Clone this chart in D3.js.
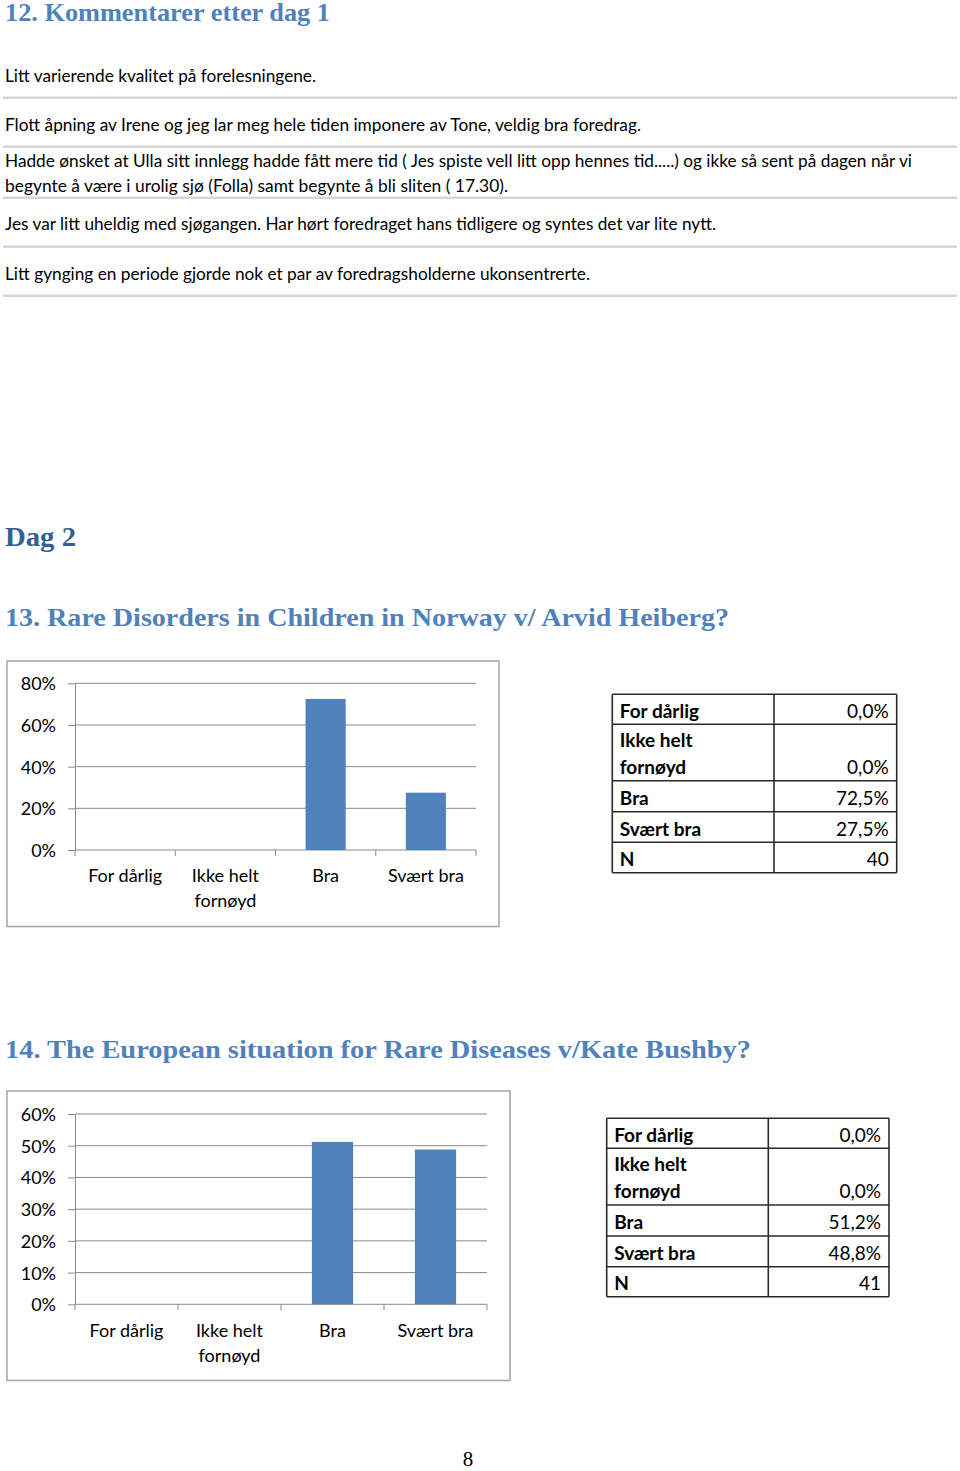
<!DOCTYPE html>
<html><head><meta charset="utf-8">
<script src="https://cdn.jsdelivr.net/npm/d3@7"></script>
<style>body{margin:0;background:#fff}svg{display:block}</style>
</head><body>
<script>
// ---------- data ----------
const heading12 = "12. Kommentarer etter dag 1";
const commentLines = [
  "Litt varierende kvalitet på forelesningene.",
  "Flott åpning av Irene og jeg lar meg hele tiden imponere av Tone, veldig bra foredrag.",
  "Hadde ønsket at Ulla sitt innlegg hadde fått mere tid ( Jes spiste vell litt opp hennes tid.....) og ikke så sent på dagen når vi",
  "begynte å være i urolig sjø (Folla) samt begynte å bli sliten ( 17.30).",
  "Jes var litt uheldig med sjøgangen. Har hørt foredraget hans tidligere og syntes det var lite nytt.",
  "Litt gynging en periode gjorde nok et par av foredragsholderne ukonsentrerte."
];
const dayHeading = "Dag 2";
const heading13 = "13. Rare Disorders in Children in Norway v/ Arvid Heiberg?";
const heading14 = "14. The European situation for Rare Diseases v/Kate Bushby?";
const categories = ["For dårlig", "Ikke helt fornøyd", "Bra", "Svært bra"];
const q13Values = [0, 0, 72.5, 27.5];
const q13Ticks = [0, 20, 40, 60, 80];
const q13N = 40;
const q14Values = [0, 0, 51.2, 48.8];
const q14Ticks = [0, 10, 20, 30, 40, 50, 60];
const q14N = 41;
const pageNumber = "8";

// ---------- layout ----------
const W = 960, H = 1471;
const svg = d3.select("body").append("svg").attr("width", W).attr("height", H);
svg.append("rect").attr("width", W).attr("height", H).attr("fill", "#fff");

const SERIF = "'Liberation Serif', 'DejaVu Serif', serif";
const SANS = "Lato, 'Open Sans', 'Liberation Sans', sans-serif";
const BLUE = "#4F81BD";

function heading(txt, x, y, size, len, color) {
  svg.append("text").attr("x", x).attr("y", y).text(txt)
    .attr("font-family", SERIF).attr("font-weight", "bold")
    .attr("font-size", size).attr("fill", color)
    .attr("textLength", len).attr("lengthAdjust", "spacingAndGlyphs");
}
heading(heading12, 5, 21, 25, 325, BLUE);
heading(dayHeading, 5, 546, 28, 71, "#365F91");
heading(heading13, 5, 626, 25, 724, BLUE);
heading(heading14, 5, 1058, 25, 746, BLUE);

// comments
const commentBase = [81.5, 130.5, 166.5, 191.5, 230, 279.5];
const commentLen = [311, 636, 907, 503, 711, 585];
svg.append("g").selectAll("text").data(commentLines).join("text")
  .attr("x", 5).attr("y", (d, i) => commentBase[i]).text(d => d)
  .attr("font-family", SANS).attr("font-size", 17.5).attr("fill", "#000")
  .attr("textLength", (d, i) => commentLen[i]).attr("lengthAdjust", "spacingAndGlyphs");
const sepY = [97.7, 146.7, 197.7, 246.7, 295.7];
svg.append("g").selectAll("line").data(sepY).join("line")
  .attr("x1", 3).attr("x2", 957).attr("y1", d => d).attr("y2", d => d)
  .attr("stroke", "#d6d6d6").attr("stroke-width", 2.5);

// wrap helper
function wrap(label, maxChars) {
  const words = label.split(" "); const lines = []; let cur = "";
  words.forEach(w => {
    const t = cur ? cur + " " + w : w;
    if (t.length > maxChars && cur) { lines.push(cur); cur = w; } else cur = t;
  });
  if (cur) lines.push(cur);
  return lines;
}

function drawChart(opt) {
  const g = svg.append("g");
  const [bx0, by0, bx1, by1] = opt.box;
  g.append("rect").attr("x", bx0).attr("y", by0).attr("width", bx1 - bx0).attr("height", by1 - by0)
    .attr("fill", "#fff").attr("stroke", "#a9a9a9").attr("stroke-width", 1.6);
  const x = d3.scaleBand().domain(categories).range([opt.left, opt.right])
    .paddingInner(0.6).paddingOuter(0.3);
  const y = d3.scaleLinear().domain([0, d3.max(opt.ticks)]).range([opt.bottom, opt.top]);
  const grid = "#8a8a8a";
  g.append("g").selectAll("line").data(opt.ticks.filter(t => t > 0)).join("line")
    .attr("x1", opt.left).attr("x2", opt.right).attr("y1", d => y(d)).attr("y2", d => y(d))
    .attr("stroke", grid).attr("stroke-width", 1);
  const ax = g.append("g").attr("transform", `translate(${opt.left},0)`)
    .call(d3.axisLeft(y).tickValues(opt.ticks).tickFormat(d => d + "%")
      .tickSize(7).tickSizeOuter(0).tickPadding(12));
  ax.select(".domain").attr("stroke", grid);
  ax.selectAll(".tick line").attr("stroke", grid);
  ax.selectAll(".tick text").attr("font-family", SANS).attr("font-size", 18)
    .attr("fill", "#000").attr("dy", "0.36em");
  // bottom axis
  g.append("line").attr("x1", opt.left).attr("x2", opt.right)
    .attr("y1", y(0)).attr("y2", y(0)).attr("stroke", grid);
  const half = x.step() * x.paddingInner() / 2;
  const bounds = categories.map(c => x(c) - half).concat([x(categories[categories.length - 1]) + x.bandwidth() + half]);
  g.append("g").selectAll("line").data(bounds).join("line")
    .attr("x1", d => d).attr("x2", d => d).attr("y1", y(0)).attr("y2", y(0) + 6)
    .attr("stroke", grid);
  // bars
  g.append("g").selectAll("rect").data(categories.map((c, i) => ({ c, v: opt.values[i] })))
    .join("rect").attr("x", d => x(d.c)).attr("width", x.bandwidth())
    .attr("y", d => y(d.v)).attr("height", d => y(0) - y(d.v)).attr("fill", BLUE);
  // labels
  categories.forEach(c => {
    const lines = wrap(c, 10);
    const t = g.append("text").attr("text-anchor", "middle").attr("font-family", SANS)
      .attr("font-size", 18).attr("fill", "#000");
    lines.forEach((l, j) => t.append("tspan").attr("x", x(c) + x.bandwidth() / 2)
      .attr("y", opt.labelY + j * 25).text(l));
  });
}

function drawTable(opt) {
  const g = svg.append("g");
  const rows = categories.map((c, i) => ({ label: c, value: d3.format(".1f")(opt.values[i]).replace(".", ",") + "%" }))
    .concat([{ label: "N", value: String(opt.n) }]);
  const lineYs = opt.rowLines.map(d => opt.top + d);
  rows.forEach((r, i) => {
    const lines = wrap(r.label, 10);
    const base = lineYs[i + 1] - 6.7;
    lines.forEach((l, j) => {
      g.append("text").attr("x", opt.left + 7.5).attr("y", base - (lines.length - 1 - j) * 27.6)
        .text(l).attr("font-family", SANS).attr("font-weight", "bold").attr("font-size", 19).attr("fill", "#000");
    });
    g.append("text").attr("x", opt.right - 8).attr("y", base).attr("text-anchor", "end")
      .text(r.value).attr("font-family", SANS).attr("font-size", 19).attr("fill", "#000");
  });
  const stroke = "#2b2b2b";
  g.append("g").selectAll("line").data(lineYs).join("line")
    .attr("x1", opt.left).attr("x2", opt.right).attr("y1", d => d).attr("y2", d => d)
    .attr("stroke", stroke).attr("stroke-width", 1.6);
  g.append("g").selectAll("line").data([opt.left, opt.mid, opt.right]).join("line")
    .attr("x1", d => d).attr("x2", d => d).attr("y1", lineYs[0]).attr("y2", lineYs[lineYs.length - 1])
    .attr("stroke", stroke).attr("stroke-width", 1.6);
}

drawChart({ box: [7, 661, 499, 926.5], left: 75, right: 476, top: 683.3, bottom: 850,
  ticks: q13Ticks, values: q13Values, labelY: 882 });
drawTable({ left: 612.3, mid: 774, right: 896.7, top: 694.3,
  rowLines: [0, 30, 86.5, 117.5, 148, 178.5], values: q13Values, n: q13N });

drawChart({ box: [7, 1091, 510, 1380.5], left: 75, right: 487, top: 1114, bottom: 1304.3,
  ticks: q14Ticks, values: q14Values, labelY: 1337 });
drawTable({ left: 606.7, mid: 768.3, right: 889, top: 1118.3,
  rowLines: [0, 30, 86.7, 117.7, 148.4, 178.4], values: q14Values, n: q14N });

svg.append("text").attr("x", 468).attr("y", 1466).attr("text-anchor", "middle")
  .text(pageNumber).attr("font-family", SERIF).attr("font-size", 21).attr("fill", "#000");
</script>
</body></html>
